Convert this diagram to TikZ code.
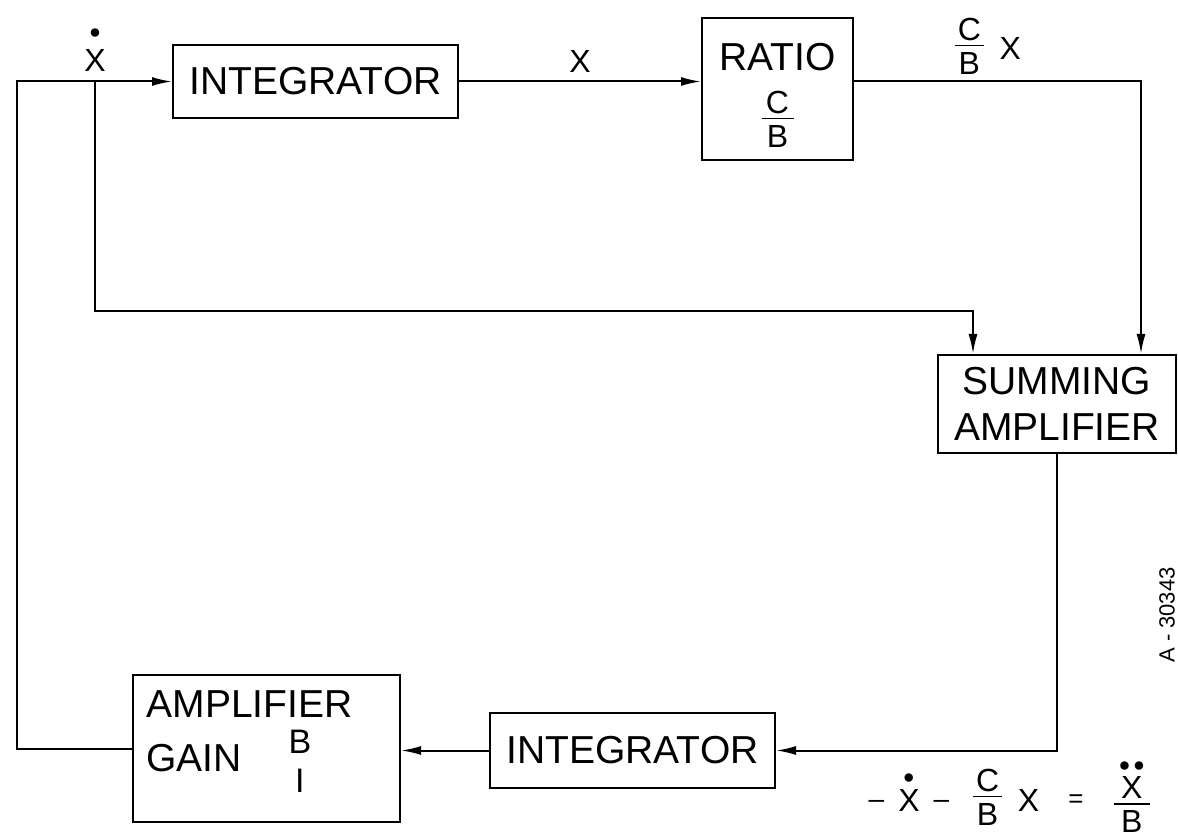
\documentclass[tikz,border=0pt]{standalone}
\usepackage{fontspec}
\setmainfont{Liberation Sans}
\usetikzlibrary{arrows.meta,positioning}
\newcommand{\boxfont}{\fontsize{19.5}{23}\selectfont}
\newcommand{\lblfont}{\fontsize{16}{19}\selectfont}
% X with one or two dots on top, baseline on the X
\newcommand{\dX}[1][2.5pt]{\vbox{\offinterlineskip\halign{\hfil##\hfil\cr$\scriptstyle\bullet$\cr\noalign{\vskip#1}X\cr}}}
\newcommand{\ddX}[1][2.5pt]{\vbox{\offinterlineskip\halign{\hfil##\hfil\cr$\scriptstyle{\bullet}\mkern3mu{\bullet}$\cr\noalign{\vskip#1}X\cr}}}
% stacked fraction, bar at about the middle of an X
\newcommand{\frc}[3][0.9em]{\raisebox{2.5pt}{$\vcenter{\offinterlineskip\halign{\hfil##\hfil\cr#2\cr\noalign{\vskip2pt}\rule{#1}{0.8pt}\cr\noalign{\vskip3pt}#3\cr}}$}}
\newcommand{\mns}{\raisebox{1.5pt}{\fontsize{14}{16}\selectfont –}}
\tikzset{
  blk/.style={draw, line width=1pt, align=center, font=\boxfont, inner sep=2pt},
  sig/.style={line width=1pt, -{Latex[length=10pt,width=4.5pt]}},
  lbl/.style={font=\lblfont, inner sep=0pt, anchor=base}
}
\begin{document}
\begin{tikzpicture}[x=0.5pt, y=-0.5pt]
  \useasboundingbox (0,0) rectangle (1178,839);

  % blocks
  \node[blk, minimum width=142.5pt, minimum height=36.5pt] (int1) at (315.5,81.5) {INTEGRATOR};
  \node[blk, minimum width=75.5pt, minimum height=71pt] (ratio) at (777.5,89) {\rule{0pt}{20pt}RATIO\\[8pt]{\lblfont\frc[1em]{C}{B}}};
  \node[blk, minimum width=119pt, minimum height=49pt] (summer) at (1057,404) {SUMMING\\AMPLIFIER};
  \node[blk, minimum width=142.5pt, minimum height=37.5pt] (int2) at (632.5,750.5) {INTEGRATOR};
  \node[blk, minimum width=133.5pt, minimum height=73.5pt, text width=120pt, align=left] (amp) at (266.5,748.5)
    {AMPLIFIER\\[4pt]GAIN\hspace{22pt}$\vcenter{\offinterlineskip
      \hbox to 14pt{\hss\fontsize{17}{20}\selectfont B\hss}\vskip 8pt
      \hbox to 14pt{\hss\fontsize{17}{20}\selectfont I\hss}}$\rule[-17pt]{0pt}{1pt}};

  % signal labels
  \node[lbl] (xdot) at (95,72) {\dX[5.5pt]};
  \node[lbl] (xval) at (580,73) {X};
  \node[lbl] (cbx) at (988,60) {\frc{C}{B}\hspace{8pt}X};
  \node[lbl] (eqn) at (1009.5,811) {\mns\hspace{7pt}\dX\hspace{7pt}\mns\hspace{12pt}\frc{C}{B}\hspace{8pt}X\hspace{14.5pt}\raisebox{2pt}{\fontsize{13}{15}\selectfont =}\hspace{15pt}\frc[1.15em]{\ddX}{B}};
  \node[font=\fontsize{11}{13}\selectfont, rotate=90] (code) at (1167,615) {A - 30343};

  % wiring
  \coordinate (tl) at (17,81.5);
  \coordinate (tap) at (95,81.5);
  \coordinate (tr) at (1141,81.5);
  \coordinate (lin) at (973,311);
  \draw[sig] (amp.west) -| (tl) -- (int1.west);
  \draw[sig] (int1.east) -- (int1.east -| ratio.west);
  \draw[sig] (int1.east -| ratio.east) -- (tr) -- (tr |- summer.north);
  \draw[sig] (tap) |- (lin) -- (lin |- summer.north);
  \draw[sig] (summer.south) |- (int2.east);
  \draw[sig] (int2.west) -- (int2.west -| amp.east);
\end{tikzpicture}
\end{document}
